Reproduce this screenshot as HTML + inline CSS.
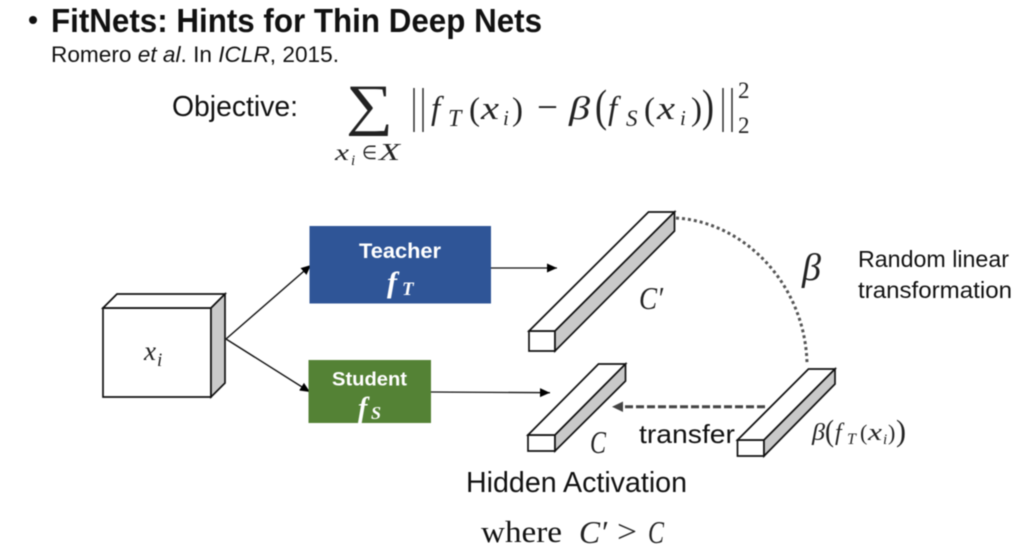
<!DOCTYPE html>
<html><head><meta charset="utf-8"><style>
html,body{margin:0;padding:0;background:#fff;width:1024px;height:556px;overflow:hidden}
svg{display:block;filter:blur(.4px)}
text{font-family:"Liberation Sans",sans-serif;fill:#111}
.m{font-family:"Liberation Serif",serif;font-style:italic;fill:#222}
.r{font-family:"Liberation Serif",serif;fill:#222}
</style></head><body>
<svg width="1024" height="556" viewBox="0 0 1024 556" xmlns="http://www.w3.org/2000/svg">
<defs>
<marker id="a" markerUnits="userSpaceOnUse" markerWidth="12" markerHeight="10" refX="10" refY="4.5" orient="auto"><path d="M0 0L10 4.5L0 9Z" fill="#000"/></marker>
</defs>
<circle cx="33" cy="20" r="4" fill="#111"/>
<text x="51" y="32" font-size="33" font-weight="bold" textLength="491" lengthAdjust="spacingAndGlyphs">FitNets: Hints for Thin Deep Nets</text>
<text x="51" y="62" font-size="22" textLength="288" lengthAdjust="spacingAndGlyphs">Romero <tspan font-style="italic">et al</tspan>. In <tspan font-style="italic">ICLR</tspan>, 2015.</text>
<text x="172" y="116" font-size="29" textLength="126" lengthAdjust="spacingAndGlyphs">Objective:</text>

<text class="r" x="346" y="124" font-size="57" textLength="47" lengthAdjust="spacingAndGlyphs">∑</text>
<text class="m" x="335" y="160" font-size="23" textLength="14" lengthAdjust="spacingAndGlyphs">x</text><text class="m" x="351" y="165" font-size="15">i</text>
<text class="r" x="362" y="159" font-size="19" textLength="15" lengthAdjust="spacingAndGlyphs">∈</text><text class="m" x="379" y="160" font-size="24" textLength="21" lengthAdjust="spacingAndGlyphs">X</text>
<path d="M414 88V132M423 88V132M723 88V132M732 88V132" stroke="#222" stroke-width="1.4" fill="none"/>
<text class="m" x="431" y="119" font-size="33">f</text><text class="m" x="448" y="126" font-size="24">T</text>
<text class="r" x="469" y="120" font-size="33">(</text><text class="m" x="481" y="119" font-size="33" textLength="18" lengthAdjust="spacingAndGlyphs">x</text><text class="m" x="503" y="125" font-size="21">i</text><text class="r" x="512" y="120" font-size="33">)</text>
<text class="r" x="537" y="119" font-size="36" textLength="21" lengthAdjust="spacingAndGlyphs">−</text>
<text class="m" x="569" y="119" font-size="33" textLength="21" lengthAdjust="spacingAndGlyphs">β</text>
<text class="r" x="595" y="121" font-size="46" textLength="12" lengthAdjust="spacingAndGlyphs">(</text>
<text class="m" x="608" y="119" font-size="33">f</text><text class="m" x="626" y="126" font-size="23">S</text>
<text class="r" x="644" y="120" font-size="33">(</text><text class="m" x="657" y="119" font-size="33" textLength="18" lengthAdjust="spacingAndGlyphs">x</text><text class="m" x="680" y="125" font-size="21">i</text><text class="r" x="691" y="120" font-size="33">)</text>
<text class="r" x="702" y="121" font-size="46" textLength="12" lengthAdjust="spacingAndGlyphs">)</text>
<text class="r" x="738" y="98" font-size="23">2</text><text class="r" x="738" y="133" font-size="23">2</text>

<!-- cube -->
<path d="M103 308H211V397H103Z" fill="#fff" stroke="#111" stroke-width="1.7"/>
<path d="M103 308L117 294H225L211 308Z" fill="#fff" stroke="#111" stroke-width="1.7"/>
<path d="M211 308L225 294V383L211 397Z" fill="#c9c9c9" stroke="#111" stroke-width="1.7"/>
<text class="m" x="144" y="360" font-size="27" textLength="12" lengthAdjust="spacingAndGlyphs">x</text><text class="m" x="157" y="366" font-size="19">i</text>

<path d="M226 339L311 265" stroke="#111" stroke-width="1.4" marker-end="url(#a)"/>
<path d="M226 339L310 392" stroke="#111" stroke-width="1.4" marker-end="url(#a)"/>

<rect x="309.5" y="226" width="181.5" height="77.5" fill="#2f5597"/>
<text x="359" y="258" font-size="21" font-weight="bold" textLength="82" lengthAdjust="spacingAndGlyphs" style="fill:#fff">Teacher</text>
<text class="m" x="387" y="292" font-size="30" font-weight="bold" style="fill:#fff">f</text><text class="m" x="402" y="295" font-size="19" font-weight="bold" style="fill:#fff">T</text>
<rect x="308.5" y="360" width="122.5" height="63" fill="#548235"/>
<text x="332" y="385.5" font-size="19" font-weight="bold" textLength="75" lengthAdjust="spacingAndGlyphs" style="fill:#fff">Student</text>
<text class="m" x="358" y="417" font-size="28" font-weight="bold" style="fill:#fff">f</text><text class="m" x="371" y="419" font-size="18" font-weight="bold" style="fill:#fff">S</text>

<path d="M491 268H557" stroke="#111" stroke-width="1.3" marker-end="url(#a)"/>
<path d="M431 392L550 392.7" stroke="#111" stroke-width="1.3" marker-end="url(#a)"/>

<!-- big bar -->
<path d="M529 331H555V351H529Z" fill="#fff" stroke="#111" stroke-width="1.7"/>
<path d="M529 331L648.5 212H674.5L555 331Z" fill="#fff" stroke="#111" stroke-width="1.7"/>
<path d="M555 331L674.5 212V231L555 351Z" fill="#c9c9c9" stroke="#111" stroke-width="1.7"/>
<text class="m" x="639" y="309" font-size="32" textLength="24" lengthAdjust="spacingAndGlyphs">C′</text>

<!-- small bar -->
<path d="M528 435H555V451H528Z" fill="#fff" stroke="#111" stroke-width="1.7"/>
<path d="M528 435L598.5 364H625.5L555 435Z" fill="#fff" stroke="#111" stroke-width="1.7"/>
<path d="M555 435L625.5 364V381L555 451Z" fill="#c9c9c9" stroke="#111" stroke-width="1.7"/>
<text class="m" x="590" y="453" font-size="32" textLength="16" lengthAdjust="spacingAndGlyphs">C</text>

<!-- third bar -->
<path d="M737.5 440H764V456H737.5Z" fill="#fff" stroke="#111" stroke-width="1.7"/>
<path d="M737.5 440L808.5 369H835L764 440Z" fill="#fff" stroke="#111" stroke-width="1.7"/>
<path d="M764 440L835 369V384L764 456Z" fill="#c9c9c9" stroke="#111" stroke-width="1.7"/>

<path d="M676 218C745 222 805 285 807 363" fill="none" stroke="#555" stroke-width="3" stroke-dasharray="3 3"/>
<path d="M765 406.7H622" stroke="#444" stroke-width="3" stroke-dasharray="8 3" fill="none"/>
<path d="M612 406.7L623 401.5V412Z" fill="#444"/>

<text class="m" x="802" y="280" font-size="38">β</text>
<text x="858" y="267" font-size="23" textLength="151" lengthAdjust="spacingAndGlyphs">Random linear</text>
<text x="858" y="298" font-size="23" textLength="154" lengthAdjust="spacingAndGlyphs">transformation</text>
<text x="639" y="443" font-size="26" textLength="96" lengthAdjust="spacingAndGlyphs">transfer</text>
<text class="m" x="812" y="440" font-size="24" textLength="13" lengthAdjust="spacingAndGlyphs">β</text>
<text class="r" x="825" y="441" font-size="31" textLength="9" lengthAdjust="spacingAndGlyphs">(</text>
<text class="m" x="835" y="440" font-size="24">f</text><text class="m" x="847" y="444" font-size="16">T</text>
<text class="r" x="860" y="440" font-size="22">(</text><text class="m" x="868" y="440" font-size="24" textLength="14" lengthAdjust="spacingAndGlyphs">x</text><text class="m" x="883" y="444" font-size="15">i</text><text class="r" x="888" y="440" font-size="22">)</text>
<text class="r" x="896" y="441" font-size="31" textLength="10" lengthAdjust="spacingAndGlyphs">)</text>

<text x="466" y="492" font-size="29" textLength="221" lengthAdjust="spacingAndGlyphs">Hidden Activation</text>
<text class="r" x="481" y="542" font-size="31" textLength="81" lengthAdjust="spacingAndGlyphs" style="fill:#111">where</text>
<text class="m" x="579" y="543" font-size="32" textLength="28" lengthAdjust="spacingAndGlyphs">C′</text>
<text class="r" x="617" y="542" font-size="32" textLength="20" lengthAdjust="spacingAndGlyphs">&gt;</text>
<text class="m" x="648" y="543" font-size="32" textLength="16" lengthAdjust="spacingAndGlyphs">C</text>
</svg>
</body></html>
